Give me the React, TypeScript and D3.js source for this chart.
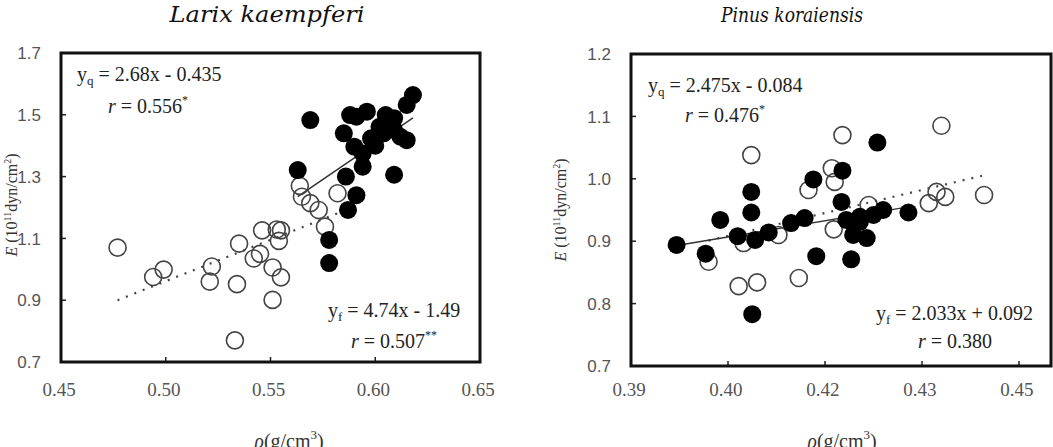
import React from "react"
import { scaleLinear, line } from "d3"

const width = 1053
const height = 447

// Larix kaempferi
const larixXTicks = [0.45, 0.5, 0.55, 0.6, 0.65]
const larixXLabels = ["0.45", "0.50", "0.55", "0.60", "0.65"]
const larixYTicks = [0.7, 0.9, 1.1, 1.3, 1.5, 1.7]
const larixYLabels = ["0.7", "0.9", "1.1", "1.3", "1.5", "1.7"]

// open circles (q)
const larixOpen = [
  [0.477, 1.07], [0.494, 0.975], [0.499, 0.999], [0.522, 1.009], [0.521, 0.96],
  [0.534, 0.952], [0.535, 1.083], [0.542, 1.035], [0.545, 1.05], [0.546, 1.126],
  [0.553, 1.129], [0.555, 1.126], [0.554, 1.092], [0.551, 1.006], [0.555, 0.974],
  [0.551, 0.901], [0.533, 0.77], [0.564, 1.27], [0.565, 1.235], [0.569, 1.214],
  [0.573, 1.192], [0.582, 1.246], [0.576, 1.138]
]
// filled circles (f)
const larixFilled = [
  [0.569, 1.483], [0.563, 1.321], [0.588, 1.499], [0.596, 1.51], [0.591, 1.494],
  [0.585, 1.44], [0.59, 1.397], [0.594, 1.375], [0.594, 1.332], [0.586, 1.3],
  [0.591, 1.24], [0.587, 1.192], [0.598, 1.424], [0.602, 1.461], [0.605, 1.499],
  [0.609, 1.489], [0.609, 1.451], [0.612, 1.429], [0.615, 1.418], [0.615, 1.532],
  [0.618, 1.564], [0.609, 1.306], [0.578, 1.095], [0.578, 1.02], [0.6, 1.4],
  [0.604, 1.44]
]
const larixQLine = [[0.477, 0.9], [0.582, 1.181]]
const larixFLine = [[0.563, 1.235], [0.618, 1.49]]

// Pinus koraiensis
const pinusXTicks = [0.39, 0.4, 0.41, 0.42, 0.43]
const pinusXLabels = ["0.39", "0.40", "0.42", "0.43", "0.45"]
const pinusYTicks = [0.7, 0.8, 0.9, 1.0, 1.1, 1.2]
const pinusYLabels = ["0.7", "0.8", "0.9", "1.0", "1.1", "1.2"]

const pinusOpen = [
  [0.4024, 1.038], [0.4107, 1.017], [0.411, 0.995], [0.4083, 0.982], [0.4109, 0.919],
  [0.4145, 0.958], [0.4052, 0.91], [0.4016, 0.897], [0.398, 0.867], [0.4011, 0.828],
  [0.403, 0.834], [0.4073, 0.841], [0.4118, 1.07], [0.422, 1.085], [0.4207, 0.961],
  [0.4215, 0.979], [0.4224, 0.971], [0.4264, 0.974]
]
const pinusFilled = [
  [0.3947, 0.894], [0.3977, 0.88], [0.3992, 0.934], [0.4024, 0.979], [0.4024, 0.946],
  [0.401, 0.908], [0.4028, 0.902], [0.4042, 0.914], [0.4065, 0.929], [0.4079, 0.937],
  [0.4088, 0.999], [0.4118, 1.013], [0.4117, 0.963], [0.4122, 0.934], [0.4129, 0.91],
  [0.4143, 0.905], [0.4136, 0.939], [0.415, 0.942], [0.4091, 0.876], [0.4127, 0.871],
  [0.4025, 0.783], [0.4154, 1.058], [0.416, 0.95], [0.4186, 0.946], [0.4136, 0.931]
]
const pinusQLine = [[0.398, 0.901], [0.4265, 1.006]]
const pinusFLine = [[0.3947, 0.893], [0.4186, 0.955]]

const serif = "'Liberation Serif', 'Times New Roman', serif"
const sans = "'Liberation Sans', Arial, sans-serif"

function Eq({ x, y, sub, text }) {
  return (
    <text x={x} y={y} fontFamily={serif} fontSize={20} fill="#222">
      y<tspan fontSize={13} dy={4}>{sub}</tspan>
      <tspan dy={-4}>{" = " + text}</tspan>
    </text>
  )
}

function R({ x, y, text, sup }) {
  return (
    <text x={x} y={y} fontFamily={serif} fontSize={20} fill="#222">
      <tspan fontStyle="italic">r</tspan>
      {" = " + text}
      {sup ? <tspan fontSize={12} dy={-9}>{sup}</tspan> : null}
    </text>
  )
}

function Panel(p) {
  const xScale = scaleLinear().domain(p.xDomain).range([p.left, p.right])
  const yScale = scaleLinear().domain(p.yDomain).range([p.bottom, p.top])
  const path = line()
    .x(d => xScale(d[0]))
    .y(d => yScale(d[1]))

  return (
    <g>
      <text
        x={p.titleX} y={22} textAnchor="middle"
        fontFamily="'DejaVu Serif', serif" fontStyle="italic" fontSize={p.titleSize}
        textLength={p.titleLen} lengthAdjust="spacingAndGlyphs" fill="#111"
      >{p.title}</text>

      {p.yTicks.map((t, i) => (
        <g key={"y" + i}>
          {yScale(t) > p.top + 2 && yScale(t) < p.bottom - 2 ? (
            <line x1={p.left} x2={p.left + 5} y1={yScale(t)} y2={yScale(t)} stroke="#222" strokeWidth={1.5} />
          ) : null}
          <text
            x={p.left - 20} y={yScale(t)} dy="0.36em" textAnchor="end"
            fontFamily={sans} fontSize={17} fill="#555"
          >{p.yLabels[i]}</text>
        </g>
      ))}

      {p.xTicks.map((t, i) => (
        <g key={"x" + i}>
          {xScale(t) > p.left + 2 && xScale(t) < p.right - 2 ? (
            <line x1={xScale(t)} x2={xScale(t)} y1={p.bottom} y2={p.bottom - 5} stroke="#222" strokeWidth={1.5} />
          ) : null}
          <text
            x={xScale(t) - 2} y={396} textAnchor="middle"
            fontFamily={serif} fontSize={19} fill="#555"
          >{p.xLabels[i]}</text>
        </g>
      ))}

      <text
        transform={`translate(${p.yTitleX}, ${p.yTitleY}) rotate(-90)`}
        textAnchor="middle" fontFamily={serif} fontSize={16} fill="#333"
      >
        <tspan fontStyle="italic">E</tspan>
        {" (10"}
        <tspan fontSize={10} dy={-6}>11</tspan>
        <tspan dy={6}>dyn/cm</tspan>
        <tspan fontSize={10} dy={-6}>2</tspan>
        <tspan dy={6}>)</tspan>
      </text>

      <text x={p.xTitleX} y={448} textAnchor="middle" fontFamily={serif} fontSize={20} fill="#333">
        <tspan fontStyle="italic">ρ</tspan>
        {"(g/cm"}
        <tspan fontSize={13} dy={-9}>3</tspan>
        <tspan dy={9}>)</tspan>
      </text>

      <path d={path(p.qLine)} fill="none" stroke="#444" strokeWidth={2.2} strokeDasharray="2 7" />
      <path d={path(p.fLine)} fill="none" stroke="#333" strokeWidth={1.5} />

      {p.open.map((d, i) => (
        <circle key={"o" + i} cx={xScale(d[0])} cy={yScale(d[1])} r={8.5} fill="none" stroke="#444" strokeWidth={1.6} />
      ))}
      {p.filled.map((d, i) => (
        <circle key={"f" + i} cx={xScale(d[0])} cy={yScale(d[1])} r={9} fill="#000" />
      ))}

      <rect
        x={p.left} y={p.top} width={p.right - p.left} height={p.bottom - p.top}
        fill="none" stroke="#111" strokeWidth={3}
      />

      <Eq x={p.notes[0]} y={p.notes[1]} sub="q" text={p.qEq} />
      <R x={p.notes[2]} y={p.notes[3]} text={p.qR} sup="*" />
      <Eq x={p.notes[4]} y={p.notes[5]} sub="f" text={p.fEq} />
      <R x={p.notes[6]} y={p.notes[7]} text={p.fR} sup={p.fSup} />
    </g>
  )
}

export default function App() {
  return (
    <svg
      width={width} height={height}
      style={{ position: "absolute", left: 0, top: 0, background: "#fff" }}
    >
      <rect width={width} height={height} fill="#fff" />
      <Panel
        left={61} right={480} top={53} bottom={362}
        xDomain={[0.45, 0.65]} yDomain={[0.7, 1.7]}
        xTicks={larixXTicks} xLabels={larixXLabels}
        yTicks={larixYTicks} yLabels={larixYLabels}
        open={larixOpen} filled={larixFilled}
        qLine={larixQLine} fLine={larixFLine}
        title="Larix  kaempferi" titleX={267} titleSize={22} titleLen={195}
        yTitleX={17} yTitleY={205} xTitleX={289}
        notes={[77, 81, 108, 113, 328, 317, 351, 348]}
        qEq="2.68x - 0.435" qR="0.556"
        fEq="4.74x - 1.49" fR="0.507" fSup="**"
      />
      <Panel
        left={631} right={1051} top={54} bottom={366}
        xDomain={[0.39, 0.4333]} yDomain={[0.7, 1.2]}
        xTicks={pinusXTicks} xLabels={pinusXLabels}
        yTicks={pinusYTicks} yLabels={pinusYLabels}
        open={pinusOpen} filled={pinusFilled}
        qLine={pinusQLine} fLine={pinusFLine}
        title="Pinus  koraiensis" titleX={792} titleSize={21} titleLen={142}
        yTitleX={566} yTitleY={210} xTitleX={842}
        notes={[648, 92, 685, 122, 876, 320, 918, 348]}
        qEq="2.475x - 0.084" qR="0.476"
        fEq="2.033x + 0.092" fR="0.380" fSup=""
      />
    </svg>
  )
}
